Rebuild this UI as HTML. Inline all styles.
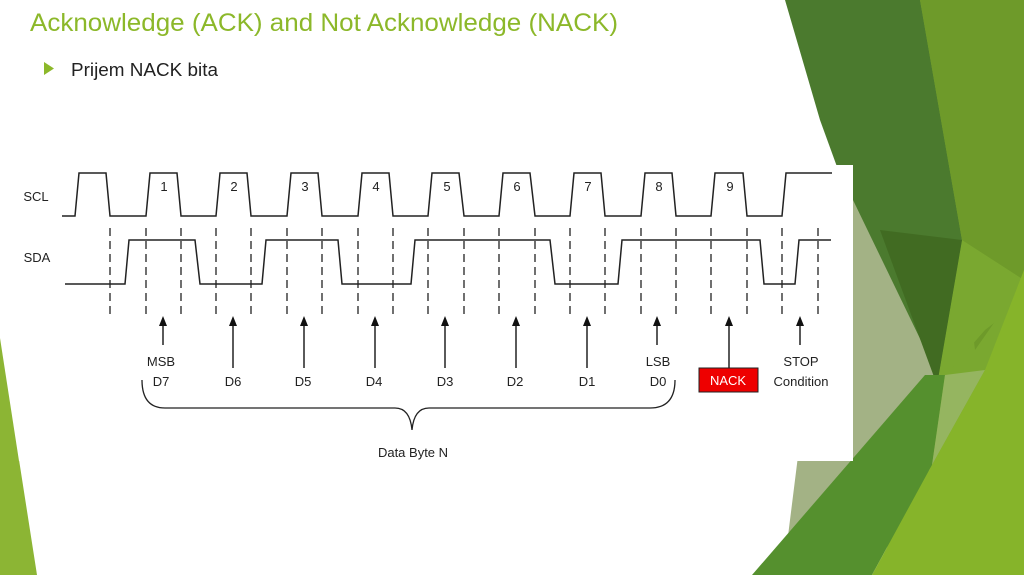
<!DOCTYPE html>
<html><head><meta charset="utf-8"><style>
html,body{margin:0;padding:0;background:#fff}
svg{display:block}
text{font-family:"Liberation Sans","DejaVu Sans",sans-serif}
</style></head><body>
<svg width="1024" height="575" viewBox="0 0 1024 575" xmlns="http://www.w3.org/2000/svg">
<rect width="1024" height="575" fill="#fff"/>
<!-- background shapes -->
<polygon points="0,338 37,575 0,575" fill="#8cb534"/>
<polygon points="900,0 1024,0 1024,575 880,575 930,380" fill="#7aa830"/>
<polygon points="785,0 920,0 962,240 937,385 860,230 820,120" fill="#4b7a2e"/>
<polygon points="920,0 1024,0 1024,280 975,350 962,240" fill="#6e9a2a"/>
<polygon points="962,240 1024,280 1024,300 985,330 937,385" fill="#7aa830"/>
<polygon points="853,200 940,380 930,470 785,560 800,440" fill="#a3b285"/>
<polygon points="880,230 962,240 937,385" fill="#416b22"/>
<polygon points="752,575 925,375 945,375 932,465 872,575" fill="#55902e"/>
<polygon points="945,375 985,370 932,465" fill="#95b560"/>
<polygon points="1024,270 1024,575 872,575 932,465 985,370" fill="#86b42a"/>
<!-- title -->
<text x="30" y="31" font-size="25" fill="#8cb82a" textLength="588" lengthAdjust="spacingAndGlyphs">Acknowledge (ACK) and Not Acknowledge (NACK)</text>
<polygon points="44,62 44,75 54,68.5" fill="#8cb82a"/>
<text x="71" y="76" font-size="18" fill="#222" textLength="147" lengthAdjust="spacingAndGlyphs">Prijem NACK bita</text>
<!-- diagram white box -->
<rect x="0" y="165" width="853" height="296" fill="#fff"/>
<polygon points="0,338 19,461 0,461" fill="#8cb534"/>
<g fill="none" stroke="#222" stroke-width="1.5">
<path d="M62,216 L75,216 L79,173 L106,173 L110,216 L146,216 L150,173 L177,173 L181,216 L216,216 L220,173 L247,173 L251,216 L287,216 L291,173 L318,173 L322,216 L358,216 L362,173 L389,173 L393,216 L428,216 L432,173 L459,173 L464,216 L499,216 L503,173 L530,173 L535,216 L570,216 L574,173 L601,173 L605,216 L641,216 L645,173 L672,173 L676,216 L711,216 L715,173 L743,173 L747,216 L782,216 L786,173 L832,173"/>
<path d="M65,284 L125,284 L129,240 L195,240 L200,284 L262,284 L266,240 L338,240 L342,284 L411,284 L415,240 L550,240 L555,284 L618,284 L622,240 L760,240 L764,284 L795,284 L799,240 L831,240"/>
</g>
<g stroke="#222" stroke-width="1.3" stroke-dasharray="8 5">
<line x1="110" y1="228" x2="110" y2="315"/><line x1="146" y1="228" x2="146" y2="315"/>
<line x1="181" y1="228" x2="181" y2="315"/><line x1="216" y1="228" x2="216" y2="315"/>
<line x1="251" y1="228" x2="251" y2="315"/><line x1="287" y1="228" x2="287" y2="315"/>
<line x1="322" y1="228" x2="322" y2="315"/><line x1="358" y1="228" x2="358" y2="315"/>
<line x1="393" y1="228" x2="393" y2="315"/><line x1="428" y1="228" x2="428" y2="315"/>
<line x1="464" y1="228" x2="464" y2="315"/><line x1="499" y1="228" x2="499" y2="315"/>
<line x1="535" y1="228" x2="535" y2="315"/><line x1="570" y1="228" x2="570" y2="315"/>
<line x1="605" y1="228" x2="605" y2="315"/><line x1="641" y1="228" x2="641" y2="315"/>
<line x1="676" y1="228" x2="676" y2="315"/><line x1="711" y1="228" x2="711" y2="315"/>
<line x1="747" y1="228" x2="747" y2="315"/><line x1="782" y1="228" x2="782" y2="315"/>
<line x1="818" y1="228" x2="818" y2="315"/>
</g>
<g font-size="13" fill="#222" text-anchor="middle">
<text x="36" y="201">SCL</text><text x="37" y="262">SDA</text>
<text x="164" y="191">1</text><text x="234" y="191">2</text><text x="305" y="191">3</text>
<text x="376" y="191">4</text><text x="447" y="191">5</text><text x="517" y="191">6</text>
<text x="588" y="191">7</text><text x="659" y="191">8</text><text x="730" y="191">9</text>
</g>
<g stroke="#222" stroke-width="1.5">
<line x1="163" y1="324" x2="163" y2="345"/><line x1="233" y1="324" x2="233" y2="368"/>
<line x1="304" y1="324" x2="304" y2="368"/><line x1="375" y1="324" x2="375" y2="368"/>
<line x1="445" y1="324" x2="445" y2="368"/><line x1="516" y1="324" x2="516" y2="368"/>
<line x1="587" y1="324" x2="587" y2="368"/><line x1="657" y1="324" x2="657" y2="345"/>
<line x1="729" y1="324" x2="729" y2="368"/><line x1="800" y1="324" x2="800" y2="345"/>
</g>
<g fill="#111">
<polygon points="163,316 159,326 167,326"/><polygon points="233,316 229,326 237,326"/>
<polygon points="304,316 300,326 308,326"/><polygon points="375,316 371,326 379,326"/>
<polygon points="445,316 441,326 449,326"/><polygon points="516,316 512,326 520,326"/>
<polygon points="587,316 583,326 591,326"/><polygon points="657,316 653,326 661,326"/>
<polygon points="729,316 725,326 733,326"/><polygon points="800,316 796,326 804,326"/>
</g>
<rect x="699" y="368" width="59" height="24" fill="#ee0000" stroke="#222" stroke-width="1"/>
<g font-size="13" fill="#222" text-anchor="middle">
<text x="161" y="366">MSB</text><text x="161" y="386">D7</text>
<text x="233" y="386">D6</text><text x="303" y="386">D5</text><text x="374" y="386">D4</text>
<text x="445" y="386">D3</text><text x="515" y="386">D2</text><text x="587" y="386">D1</text>
<text x="658" y="366">LSB</text><text x="658" y="386">D0</text>
<text x="728" y="385" fill="#fff">NACK</text>
<text x="801" y="366">STOP</text><text x="801" y="386">Condition</text>
<text x="413" y="457">Data Byte N</text>
</g>
<path d="M142,380 Q142,408 165,408 L395,408 Q410,408 412,430 Q414,408 429,408 L650,408 Q675,408 675,380" fill="none" stroke="#222" stroke-width="1.3"/>
</svg>
</body></html>
